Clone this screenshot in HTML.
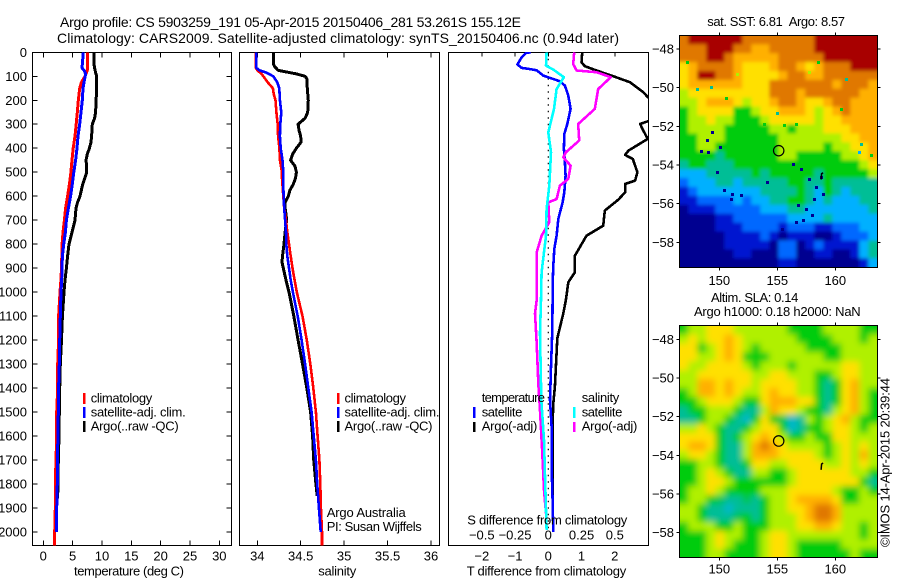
<!DOCTYPE html>
<html>
<head>
<meta charset="utf-8">
<title>Argo profile</title>
<style>
html,body{margin:0;padding:0;background:#fff;}
svg{display:block;}
text{font-family:"Liberation Sans",sans-serif;font-size:13px;fill:#000;}
.t{font-size:14px;}
</style>
</head>
<body>
<svg id="chart" xmlns="http://www.w3.org/2000/svg" width="900" height="580" viewBox="0 0 900 580">
<defs>
<clipPath id="clip-t"><rect x="32.5" y="52" width="199" height="493.5"/></clipPath>
<clipPath id="clip-s"><rect x="239.5" y="52" width="200" height="493.5"/></clipPath>
<clipPath id="clip-d"><rect x="448.5" y="52" width="200" height="493.5"/></clipPath>
<clipPath id="clip-m1"><rect x="679.5" y="35.5" width="198" height="232"/></clipPath>
<clipPath id="clip-m2"><rect x="679.5" y="325.5" width="198" height="232"/></clipPath>
<filter id="sst-blur" filterUnits="userSpaceOnUse" x="640" y="0" width="260" height="300"><feGaussianBlur stdDeviation="1.8"/></filter>
<filter id="sla-blur" filterUnits="userSpaceOnUse" x="640" y="290" width="260" height="300"><feGaussianBlur stdDeviation="3.2"/></filter>
</defs>
<rect x="0" y="0" width="900" height="580" fill="#fff"/>
<text class="t" x="60" y="27" textLength="461">Argo profile: CS 5903259_191 05-Apr-2015 20150406_281 53.261S 155.12E</text>
<text class="t" x="57" y="43" textLength="562">Climatology: CARS2009. Satellite-adjusted climatology: synTS_20150406.nc (0.94d later)</text>

<g id="panel-t"></g>
<g id="panel-s"></g>
<g id="panel-d"></g>
<g id="map-sst"></g>
<g id="map-sla"></g>

<text x="74" y="575.5" textLength="110">temperature (deg C)</text>
<text x="318.3" y="575.5" textLength="38">salinity</text>
<text x="466.7" y="575.5" textLength="159.5">T difference from climatology</text>
<text x="467.3" y="524.5" textLength="160">S difference from climatology</text>

<rect x="83" y="393" width="2.5" height="11" fill="#f00"/>
<rect x="83" y="407" width="2.5" height="11" fill="#00f"/>
<rect x="83" y="421" width="2.5" height="11" fill="#000"/>
<text x="90.7" y="402.5" textLength="61.5">climatology</text>
<text x="90.7" y="416.5" textLength="95">satellite-adj. clim.</text>
<text x="90.7" y="430.5" textLength="88">Argo(..raw -QC)</text>

<rect x="337" y="393" width="2.5" height="11" fill="#f00"/>
<rect x="337" y="407" width="2.5" height="11" fill="#00f"/>
<rect x="337" y="421" width="2.5" height="11" fill="#000"/>
<text x="344.5" y="402.5" textLength="61.5">climatology</text>
<text x="344.5" y="416.5" textLength="95">satellite-adj. clim.</text>
<text x="344.5" y="430.5" textLength="88">Argo(..raw -QC)</text>
<text x="326.7" y="517" textLength="79">Argo Australia</text>
<text x="326.7" y="531" textLength="95">PI: Susan Wijffels</text>

<text x="481.7" y="402" textLength="63.3">temperature</text>
<text x="581.7" y="402" textLength="37.6">salinity</text>
<rect x="473" y="407" width="2.5" height="11" fill="#00f"/>
<rect x="473" y="422" width="2.5" height="10" fill="#000"/>
<rect x="573" y="407" width="2.5" height="11" fill="#0ff"/>
<rect x="573" y="422" width="2.5" height="10" fill="#f0f"/>
<text x="481.7" y="416.5" textLength="40.6">satellite</text>
<text x="481.7" y="430.5" textLength="55.6">Argo(-adj)</text>
<text x="581.7" y="416.5" textLength="40.6">satellite</text>
<text x="581.7" y="430.5" textLength="55.6">Argo(-adj)</text>

<text x="707.3" y="26" textLength="137.7">sat. SST: 6.81&#160;&#160;Argo: 8.57</text>
<text x="711" y="302" textLength="87.3">Altim. SLA: 0.14</text>
<text x="694" y="316" textLength="166.7">Argo h1000: 0.18 h2000: NaN</text>
<text transform="translate(889.5,547) rotate(-90)" x="0" y="0" textLength="169">©IMOS 14-Apr-2015 20:39:44</text>
</svg>

<script>
/* ---- axis tick labels ---- */
const depthTicks = [0,100,200,300,400,500,600,700,800,900,1000,1100,1200,1300,1400,1500,1600,1700,1800,1900,2000];
const tempTicks = [0,5,10,15,20,25,30];
const salTicks = [34,34.5,35,35.5,36];
const salTickLabels = ['34','34.5','35','35.5','36'];
const diffTTicks = [-2,-1,0,1,2];
const diffTTickLabels = ['\u22122','\u22121','0','1','2'];
const diffSTicks = [-0.5,-0.25,0,0.25,0.5];
const diffSTickLabels = ['\u22120.5','\u22120.25','0','0.25','0.5'];
const lonTicks = [150,155,160];
const latTicks = [-48,-50,-52,-54,-56,-58];

/* ---- temperature profiles ---- */
const tempClimDepth = [0,60,75,100,125,150,200,250,300,350,400,450,500,550,600,650,700,750,800,850,900,950,1000,1100,1200,1300,1400,1500,1600,1700,1800,1900,2000,2056];
const tempClim = [7.56,7.56,7.5,7.1,6.5,6.2,5.97,5.8,5.6,5.4,5.1,4.9,4.7,4.45,4.15,3.8,3.6,3.35,3.2,3.15,3.1,3.0,2.85,2.6,2.6,2.45,2.45,2.28,2.28,2.16,2.05,2.05,1.94,1.94];
const tempSatDepth = [0,50,65,75,90,125,150,200,250,300,350,400,450,500,550,600,650,700,750,800,850,900,950,1000,1100,1200,1300,1400,1500,1600,1700,1800,1900,2000];
const tempSat = [6.82,6.65,6.6,6.94,7.22,6.94,6.77,6.65,6.42,6.2,5.92,5.75,5.5,5.2,4.95,4.66,4.27,3.93,3.76,3.47,3.25,3.19,3.13,3.02,2.9,2.8,2.73,2.6,2.56,2.5,2.39,2.39,2.28,2.22];
const tempArgoDepth = [0,50,65,85,100,150,200,250,275,300,350,375,400,425,450,475,500,525,550,600,625,650,700,750,800,850,900,950,1000,1050,1100,1200,1300,1400,1500,1600,1700,1800,1860];
const tempArgo = [8.64,8.64,8.75,8.92,9.1,9.1,9.0,8.92,8.75,8.36,8.24,8.13,7.85,7.5,7.28,7.39,7.39,7.05,6.71,6.26,5.85,5.58,5.4,4.9,4.38,4.15,3.93,3.7,3.53,3.4,3.25,3.1,2.9,2.8,2.73,2.67,2.56,2.5,2.44];

/* ---- salinity profiles ---- */
const salClimDepth = [0,65,75,90,100,125,150,175,200,250,300,350,400,450,500,525,600,650,700,750,800,850,900,950,1000,1100,1200,1300,1400,1500,1600,1700,1800,1900,2000,2056];
const salClim = [33.985,33.985,34.0,34.05,34.07,34.12,34.18,34.19,34.21,34.22,34.235,34.24,34.255,34.26,34.285,34.285,34.3,34.31,34.33,34.345,34.365,34.385,34.405,34.43,34.455,34.52,34.57,34.61,34.645,34.675,34.695,34.715,34.725,34.733,34.745,34.745];
const salSatDepth = [0,65,75,85,100,125,150,200,250,300,350,400,450,500,550,600,650,700,750,800,850,900,950,1000,1100,1200,1300,1400,1500,1600,1700,1800,1900,2000];
const salSat = [33.99,33.99,34.023,34.107,34.184,34.23,34.253,34.26,34.276,34.265,34.26,34.27,34.29,34.3,34.3,34.303,34.31,34.32,34.33,34.334,34.345,34.365,34.385,34.41,34.465,34.51,34.55,34.587,34.625,34.65,34.675,34.69,34.71,34.73];
const salArgoDepth = [0,50,60,75,82,90,100,110,150,200,250,275,300,325,350,375,400,425,450,475,500,525,550,575,600,625,650,675,700,750,800,850,875,900,950,1000,1100,1200,1300,1400,1500,1600,1700,1800,1850];
const salArgo = [34.184,34.187,34.2,34.24,34.338,34.45,34.55,34.57,34.576,34.587,34.58,34.55,34.47,34.48,34.5,34.503,34.45,34.407,34.384,34.434,34.45,34.44,34.415,34.376,34.357,34.32,34.32,34.33,34.337,34.32,34.307,34.29,34.285,34.3,34.33,34.365,34.42,34.47,34.52,34.57,34.614,34.637,34.65,34.675,34.69];

/* ---- difference profiles ---- */
const dTSatDepth = [0,3,21,51,65,70,75,97,121,139,181,236,299,341,403,459,514,584,626,695,765,820,890,973,1033,1158,1311,1450,1561,1728,1867,2000];
const dTSat = [-0.53,-0.67,-0.8,-0.93,-0.8,-0.55,-0.35,-0.15,0.35,0.5,0.6,0.67,0.57,0.48,0.47,0.5,0.52,0.48,0.43,0.3,0.25,0.18,0.15,0.13,0.13,0.12,0.08,0.05,0.1,0.1,0.13,0.15];
const dTArgoDepth = [0,42,58,76,97,125,167,188,236,285,299,327,361,389,410,428,445,500,535,549,584,614,660,723,765,848,917,959,1033,1089,1158,1193,1311,1394,1464,1547,1728,1860];
const dTArgo = [1.02,1.0,1.1,1.45,1.9,2.46,2.86,3.0,3.8,3.05,2.76,2.86,2.99,2.66,2.41,2.31,2.54,2.68,2.61,2.31,2.31,2.11,1.7,1.65,1.15,0.8,0.8,0.6,0.53,0.45,0.33,0.27,0.23,0.2,0.15,0.13,0.13,0.13];
const dSSatDepth = [0,56,72,104,153,236,334,417,556,653,765,917,1033,1172,1450,1617,1811,1992];
const dSSat = [-0.0125,-0.0175,0.0375,0.1175,0.0625,0.0425,0,0.02,0.0075,-0.0125,-0.0175,-0.05,-0.055,-0.0625,-0.0525,-0.0325,-0.0225,-0.0125];
const dSArgoDepth = [0,49,76,83,104,153,236,299,368,417,438,473,528,556,612,626,709,765,834,917,1033,1089,1214,1380,1492,1672,1825,1923];
const dSArgo = [0.195,0.1875,0.2125,0.3625,0.47,0.375,0.35,0.225,0.2325,0.1325,0.1125,0.1675,0.15,0.0875,0.0625,0,0.0075,-0.05,-0.0875,-0.0875,-0.0875,-0.1,-0.0875,-0.075,-0.0625,-0.045,-0.0325,-0.0175];

/* ---- map values (colour levels 0 navy .. 10 dark red) ---- */
const sstLevels = [
[9,10,10,10,10,10,10,9,9,9,9,9,9,9,9,10,10,10,10,10,10,10],
[9,9,9,10,10,10,9,9,8,8,9,9,9,9,9,10,10,10,10,10,10,10],
[9,9,9,10,10,9,8,8,8,8,8,9,9,9,9,9,10,10,10,10,10,10],
[7,8,9,9,9,9,8,7,7,7,8,9,9,8,7,8,9,9,9,10,10,10],
[7,8,10,10,9,9,8,7,7,7,7,8,9,9,8,8,9,9,9,9,9,9],
[7,8,8,8,8,8,8,7,7,7,9,9,9,9,9,9,9,8,9,9,9,8],
[6,7,7,7,7,7,7,7,7,7,9,9,9,8,9,9,9,9,9,9,8,8],
[6,6,7,8,8,8,7,6,7,7,8,9,9,8,7,7,8,9,9,8,8,8],
[5,6,7,7,7,7,5,5,6,7,7,8,8,8,7,6,7,8,9,8,8,8],
[5,6,6,7,6,6,5,5,5,6,7,7,7,7,7,6,7,7,8,8,8,8],
[5,6,6,6,6,5,5,5,5,5,6,6,5,6,6,6,7,7,7,8,8,8],
[5,5,6,6,6,5,5,5,5,5,5,6,6,6,6,6,6,6,7,7,8,8],
[5,5,6,6,5,5,5,5,5,5,5,6,6,6,6,6,5,6,6,7,7,8],
[5,5,5,5,4,5,5,5,5,5,5,6,6,5,5,5,5,5,6,6,7,8],
[4,5,5,4,4,4,5,5,5,5,5,5,5,5,5,5,5,5,5,5,6,7],
[3,3,3,4,4,4,4,4,5,4,5,5,5,5,5,4,5,5,5,5,5,6],
[2,3,3,3,4,4,3,4,4,4,4,4,5,5,4,4,5,4,4,4,4,4],
[1,2,3,3,3,3,3,3,3,4,4,4,4,5,4,3,5,4,3,4,4,4],
[1,1,2,2,2,2,3,2,3,3,4,4,5,5,4,3,4,3,3,3,4,4],
[0,1,1,1,2,2,2,2,2,3,3,3,4,4,3,3,3,3,3,3,3,4],
[0,0,0,0,1,1,2,2,2,2,2,2,3,3,3,3,4,3,3,3,3,3],
[0,0,0,0,1,1,1,2,2,2,2,1,2,2,2,1,1,2,2,2,3,3],
[0,0,0,0,0,1,1,1,1,2,1,0,1,1,1,0,0,1,2,2,2,3],
[0,0,0,0,0,1,1,1,1,1,0,2,2,0,1,2,1,1,1,1,3,4],
[0,0,0,0,0,0,1,1,0,0,0,2,2,0,0,1,1,0,0,1,3,4],
[0,0,0,0,0,0,0,0,0,0,0,1,1,0,0,0,0,0,0,0,1,3]
];
const sstSpeckLon = [149.42,148.99,148.47,149.13,150.14,149.91,154.23,156.4,157.12,157.78,158.41,158.85,150.49,151.21,151.93,151.06,156.83,157.55,158.27,158.99,157.26,156.68,158.12,155.53,155.1,150.63,155.68,156.68,153.95,161.0,160.57,162.3,162.16,163.17,157.84,158.56,147.32,148.18,149.34,151.64];
const sstSpeckLat = [-52.35,-52.78,-53.35,-53.38,-53.12,-54.42,-54.94,-53.99,-54.25,-54.76,-55.19,-54.68,-55.37,-55.54,-55.62,-55.8,-56.14,-56.31,-55.8,-55.54,-56.92,-57.0,-56.66,-57.35,-51.37,-50.57,-52.0,-51.92,-51.92,-49.59,-51.14,-52.95,-53.38,-53.56,-49.25,-48.73,-48.73,-50.11,-50.02,-49.33];
const sstSpeckLevel = [0,0,0,0,0,0,0,0,0,0,0,0,0,0,0,0,0,0,0,0,0,0,0,0,4,5,5,5,5,4,5,4,3,5,6,5,5,4,4,6];
const slaLevels = [
[5,6,6,7,7,7,6,6,6,6,6,6,5,5,5,5,6,6,6,6,5,5],
[6,7,6,7,7,8,7,6,6,6,6,6,6,5,5,5,5,6,6,6,5,6],
[7,7,5,6,7,8,7,6,5,6,6,6,6,6,5,5,5,5,6,6,6,6],
[7,7,6,6,7,8,7,5,5,5,6,6,6,6,6,6,5,5,6,6,6,6],
[7,6,6,7,7,7,7,6,5,6,6,6,5,6,6,6,6,6,7,7,6,6],
[6,6,7,7,7,7,7,7,6,6,7,7,6,6,6,5,5,6,7,7,6,6],
[6,6,8,8,7,8,7,7,6,7,7,7,7,6,6,5,4,5,7,8,6,6],
[5,6,8,8,7,8,7,6,6,7,8,7,7,6,6,5,4,5,7,8,6,5],
[5,5,6,7,7,7,6,5,5,7,8,8,8,7,7,5,4,5,7,8,6,5],
[4,5,5,6,6,6,5,4,4,6,8,7,7,6,5,5,4,6,7,8,6,5],
[4,4,5,6,6,5,4,3.5,5,7,5,4.5,3.5,4,6,5,6,7,8,6,5,5],
[6,6,7,6,5,4,4,5,6,7,7,5,3.5,4,5,5,6,7,7,6,5,6],
[7,7,7,7,5,4,5,6,7,8,7,6,5,5,6,5,5,7,7,6,6,6],
[7,8,8,7,5,4,4,6,8,9,8,7,6,6,6,6,5,6,7,6,7,6],
[6,7,7,6,5,4,4,6,8,8,8,7,7,7,7,6,5,6,7,6,8,6],
[5,5,6,6,5,4,4,5,7,7,6,6,7,7,7,7,6,6,7,6,7,6],
[5,5,6,7,6,5,4,4,6,6,5,5,6,7,7,7,7,7,7,6,6,5],
[5,5,6,7,7,6,5,5,5,5,5,5,6,7,7,7,7,7,7,7,5,4],
[5,6,6,7,6,5,5,5,5,6,6,6,7,7,7,7,7,6,5,5,6,5],
[5,6,6,5,4.5,4,4,4.5,4,5,6,6,7,8,8,8,8,7,5,5,6,6],
[6,6,5,4,4,3.5,4,4,4,5,6,6,7,7,8,9,9,8,6,6,6,6],
[6,6,5,4,4,4,4.5,5,4,5,6,6,6,7,8,9,9,8,6,6,6,6],
[5,6,6,6,5,5,6,5,5,5,6,6,6,7,7,8,8,7,6,6,5,6],
[5,5,5,6,7,6,6,5,5,6,7,7,6,6,6,6,6,6,6,6,5,6],
[5,5,5,6,7,6,5,5,5,6,7,7,6,5,5,5,5,5,6,6,6,6],
[5,5,5,6,6,5,5,5,5,6,7,7,6,5,5,5,5,5,5,6,5,5]
];
const argoLon = [155.12];
const argoLat = [-53.26];
const trackLon = [158.78,158.82,158.95];
const trackLat = [-54.75,-54.45,-54.4];

/* ---- axis functions ---- */
function yDepth(d){return 52.3+d*0.2398;}
function xTemp(v){return 43.3+v*5.867;}
function xSal(v){return 257.3+(v-34)*86.83;}
function xDiffT(v){return 548.3+v*33.25;}
function xDiffS(v){return 548.3+v*133;}
function xLon(v){return 719.3+(v-150)*11.6;}
function yLatSst(v){return 49-(v+48)*19.33;}
function yLatSla(v){return 339.3-(v+48)*19.33;}

const NS='http://www.w3.org/2000/svg';
function mk(tag,parent,attrs){
  const e=document.createElementNS(NS,tag);
  for(const k in attrs){e.setAttribute(k,attrs[k]);}
  parent.appendChild(e);
  return e;
}
function seriesPoints(depths,values,xf){
  return values.map(function(v,i){return xf(v).toFixed(1)+','+yDepth(depths[i]).toFixed(1);}).join(' ');
}
function profile(parent,name,depths,values,xf,color,width,clip){
  const el=mk('polyline',parent,{points:seriesPoints(depths,values,xf),fill:'none',stroke:color,'stroke-width':width,'stroke-linejoin':'round','shape-rendering':'crispEdges','clip-path':'url(#'+clip+')'});
  
  
  return el;
}
function tickLine(parent,x1,y1,x2,y2){
  const el=mk('line',parent,{x1:x1,y1:y1,x2:x2,y2:y2,stroke:'#000','stroke-width':1,'shape-rendering':'crispEdges'});
  
  
}
function tickText(parent,x,y,anchor,str){
  const el=mk('text',parent,{x:x,y:y,'text-anchor':anchor});
  el.textContent=str;
  
  
}
function frame(parent,x,y,w,h){
  const el=mk('rect',parent,{x:x,y:y,width:w,height:h,fill:'none',stroke:'#000','stroke-width':1,'shape-rendering':'crispEdges'});
  
  
}

const TOP=52.5,BOT=545.5;
/* temperature panel */
const pT=document.getElementById('panel-t');
frame(pT,32.5,TOP,199,BOT-TOP);
tempTicks.forEach(function(v){
  tickLine(pT,xTemp(v),TOP,xTemp(v),TOP+5);
  tickLine(pT,xTemp(v),BOT,xTemp(v),BOT-5);
  tickText(pT,xTemp(v),560.5,'middle',String(v));
});
depthTicks.forEach(function(d){
  tickLine(pT,32.5,yDepth(d),37.5,yDepth(d));
  tickLine(pT,231.5,yDepth(d),226.5,yDepth(d));
  tickText(pT,27,yDepth(d)+4.5,'end',String(d));
});
profile(pT,'temperature-argo-line',tempArgoDepth,tempArgo,xTemp,'#000',3,'clip-t');
profile(pT,'temperature-climatology-line',tempClimDepth,tempClim,xTemp,'#f00',3,'clip-t');
profile(pT,'temperature-satellite-line',tempSatDepth,tempSat,xTemp,'#00f',3,'clip-t');

/* salinity panel */
const pS=document.getElementById('panel-s');
frame(pS,239.5,TOP,200,BOT-TOP);
salTicks.forEach(function(v,i){
  tickLine(pS,xSal(v),TOP,xSal(v),TOP+5);
  tickLine(pS,xSal(v),BOT,xSal(v),BOT-5);
  tickText(pS,xSal(v),560.5,'middle',salTickLabels[i]);
});
profile(pS,'salinity-argo-line',salArgoDepth,salArgo,xSal,'#000',3,'clip-s');
profile(pS,'salinity-climatology-line',salClimDepth,salClim,xSal,'#f00',2.6,'clip-s');
profile(pS,'salinity-satellite-line',salSatDepth,salSat,xSal,'#00f',2.6,'clip-s');

/* difference panel */
const pD=document.getElementById('panel-d');
frame(pD,448.5,TOP,200,BOT-TOP);
diffTTicks.forEach(function(v,i){
  tickLine(pD,xDiffT(v),TOP,xDiffT(v),TOP+4);
  tickText(pD,xDiffT(v),560.5,'middle',diffTTickLabels[i]);
});
diffSTicks.forEach(function(v,i){
  tickText(pD,xDiffS(v),539.5,'middle',diffSTickLabels[i]);
});
const zeroLine=mk('line',pD,{x1:xDiffT(0),y1:yDepth(0),x2:xDiffT(0),y2:yDepth(2000),stroke:'#000','stroke-width':1.2,'stroke-dasharray':'1.5 5'});


profile(pD,'diff-t-argo-line',dTArgoDepth,dTArgo,xDiffT,'#000',2.6,'clip-d');
profile(pD,'diff-t-satellite-line',dTSatDepth,dTSat,xDiffT,'#00f',2.6,'clip-d');
profile(pD,'diff-s-argo-line',dSArgoDepth,dSArgo,xDiffS,'#f0f',2.6,'clip-d');
profile(pD,'diff-s-satellite-line',dSSatDepth,dSSat,xDiffS,'#0ff',2.6,'clip-d');

/* colour scale */
const stops=[[0,0,144],[0,24,208],[0,104,255],[0,176,255],[0,190,150],[0,204,16],[176,240,0],[255,224,0],[255,176,0],[224,120,0],[168,0,0]];
function levelColor(l){
  const i=Math.max(0,Math.min(9,Math.floor(l))),f=Math.max(0,Math.min(1,l-i));
  const a=stops[i],b=stops[i+1];
  return 'rgb('+[0,1,2].map(function(k){return Math.round(a[k]+(b[k]-a[k])*f);}).join(',')+')';
}
const LON0=146.55,DLON=0.776,LAT0=-47.29,DLAT=0.4615;
function drawMapFrame(group,yf,boxY,labelY){
  frame(group,679.5,boxY,198,232);
  lonTicks.forEach(function(v){
    tickLine(group,xLon(v),boxY,xLon(v),boxY-3);
    tickLine(group,xLon(v),boxY+232,xLon(v),boxY+235);
    tickText(group,xLon(v),labelY,'middle',String(v));
  });
  latTicks.forEach(function(v){
    tickLine(group,679.5,yf(v),676.5,yf(v));
    tickLine(group,877.5,yf(v),880.5,yf(v));
    tickText(group,674,yf(v)+4.5,'end','\u2212'+Math.abs(v));
  });
  const track=mk('polyline',group,{points:trackLon.map(function(v,i){return xLon(v).toFixed(1)+','+yf(trackLat[i]).toFixed(1);}).join(' '),fill:'none',stroke:'#000','stroke-width':1.5});
  
  
  const marker=mk('circle',group,{cx:xLon(argoLon[0]),cy:yf(argoLat[0]),r:5.2,fill:'none',stroke:'#000','stroke-width':1.2});
  
  
}
function drawGrid(parent,levels,yf,prefix){
  levels.forEach(function(row,r){
    row.forEach(function(lvl,c){
      let x0=xLon(LON0+c*DLON),x1=xLon(LON0+(c+1)*DLON);
      let y0=yf(LAT0-r*DLAT),y1=yf(LAT0-(r+1)*DLAT);
      if(c===0){x0-=20;}
      if(c===row.length-1){x1+=20;}
      if(r===0){y0-=20;}
      if(r===levels.length-1){y1+=20;}
      const cell=mk('rect',parent,{x:x0.toFixed(1),y:y0.toFixed(1),width:(x1-x0+0.6).toFixed(1),height:(y1-y0+0.6).toFixed(1),fill:levelColor(lvl)});
      
      
    });
  });
}

/* SST map */
const mSST=document.getElementById('map-sst');
const sstClip=mk('g',mSST,{'clip-path':'url(#clip-m1)'});
const sstBlur=mk('g',sstClip,{filter:'url(#sst-blur)'});
drawGrid(sstBlur,sstLevels,yLatSst,'sst');
sstSpeckLon.forEach(function(lon,i){
  const sp=mk('rect',sstClip,{x:Math.round(xLon(lon))-2,y:Math.round(yLatSst(sstSpeckLat[i]))-2,width:3,height:3,fill:levelColor(sstSpeckLevel[i]),'shape-rendering':'crispEdges'});
  
  
});
drawMapFrame(mSST,yLatSst,35.5,285);

/* SLA map */
const mSLA=document.getElementById('map-sla');
const slaClip=mk('g',mSLA,{'clip-path':'url(#clip-m2)'});
const slaBlur=mk('g',slaClip,{filter:'url(#sla-blur)'});
drawGrid(slaBlur,slaLevels,yLatSla,'sla');
drawMapFrame(mSLA,yLatSla,325.5,573.5);
</script>
</body>
</html>
